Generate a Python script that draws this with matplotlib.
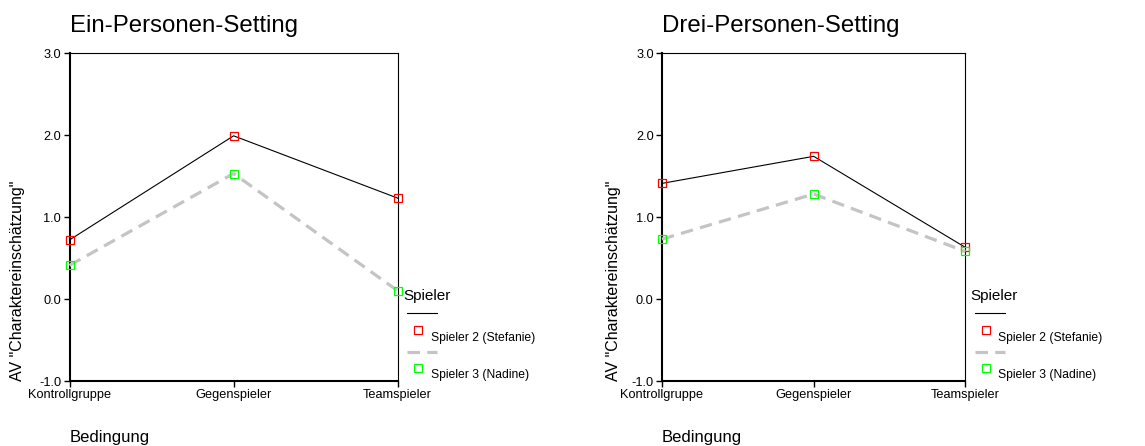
"""Profile plots of the character rating per condition, one panel per setting."""

import matplotlib

matplotlib.use("Agg")
import matplotlib.pyplot as plt
from matplotlib.lines import Line2D
from matplotlib.ticker import FormatStrFormatter

plt.rcParams["font.family"] = ["Liberation Sans", "DejaVu Sans"]

CONDITIONS = ["Kontrollgruppe", "Gegenspieler", "Teamspieler"]
PLAYERS = ["Spieler 2 (Stefanie)", "Spieler 3 (Nadine)"]
TITLES = ["Ein-Personen-Setting", "Drei-Personen-Setting"]

# means per condition, one list per player
ein_spieler2 = [0.72, 1.99, 1.23]
ein_spieler3 = [0.41, 1.53, 0.10]
drei_spieler2 = [1.41, 1.74, 0.63]
drei_spieler3 = [0.73, 1.28, 0.58]

Y_TICKS = [-1.0, 0.0, 1.0, 2.0, 3.0]

W, H = 1145, 446


def px(x, y):
    return x / W, (H - y) / H


def _panel(fig, rect, title, s2, s3, legend_x):
    ax = fig.add_axes(rect)
    xs = range(len(CONDITIONS))
    ax.plot(xs, s2, color="black", lw=0.8, marker="s", ms=5.5, mfc="none",
            mec="#ff0000", mew=0.9, clip_on=False, zorder=3)
    ax.plot(xs, s3, color="#c4c4c4", lw=2.3, ls=(0, (3.9, 2.3)), marker="s", ms=5.5,
            mfc="none", mec="#00ff00", mew=0.9, clip_on=False, zorder=3)
    ax.set_xlim(0, 2)
    ax.set_ylim(-1, 3)
    ax.set_xticks(list(xs))
    ax.set_xticklabels(CONDITIONS)
    ax.set_yticks(Y_TICKS)
    ax.yaxis.set_major_formatter(FormatStrFormatter("%.1f"))
    ax.tick_params(direction="out", length=4, width=1, labelsize=9.2, pad=2)
    for side in ("left", "bottom"):
        ax.spines[side].set_linewidth(1.5)
    for side in ("top", "right"):
        ax.spines[side].set_linewidth(0.8)

    ax.text(0, 1.064, title, transform=ax.transAxes, fontsize=17.3, ha="left", va="baseline")
    ax.text(-0.136, 0.0, 'AV "Charaktereinschätzung"', transform=ax.transAxes, rotation=90,
            rotation_mode="anchor", ha="left", va="bottom", fontsize=11.5)
    ax.text(0, -0.185, "Bedingung", transform=ax.transAxes, fontsize=12, ha="left", va="baseline")

    # SPSS style legend: line and marker sit on separate rows
    fig.text(*px(legend_x, 300), "Spieler", fontsize=11, ha="left", va="baseline")
    fig.add_artist(Line2D([px(legend_x + 4, 0)[0], px(legend_x + 34, 0)[0]],
                          [px(0, 313)[1]] * 2, color="black", lw=0.8))
    fig.add_artist(Line2D([px(legend_x + 15, 0)[0]], [px(0, 330)[1]], ls="none", marker="s",
                          ms=5.5, mfc="none", mec="#ff0000", mew=0.9))
    fig.text(*px(legend_x + 28, 341.5), PLAYERS[0], fontsize=8.7, ha="left", va="baseline")
    fig.add_artist(Line2D([px(legend_x + 4, 0)[0], px(legend_x + 34, 0)[0]],
                          [px(0, 351.5)[1]] * 2, color="#c4c4c4", lw=2.3, ls=(0, (3.9, 2.3))))
    fig.add_artist(Line2D([px(legend_x + 15, 0)[0]], [px(0, 368)[1]], ls="none", marker="s",
                          ms=5.5, mfc="none", mec="#00ff00", mew=0.9))
    fig.text(*px(legend_x + 28, 378), PLAYERS[1], fontsize=8.7, ha="left", va="baseline")
    return ax


fig = plt.figure(figsize=(W / 100, H / 100), dpi=100)
_panel(fig, [69.5 / W, 65 / H, 328.2 / W, 328 / H], TITLES[0], ein_spieler2, ein_spieler3, 403)
_panel(fig, [662 / W, 65 / H, 303.3 / W, 328 / H], TITLES[1], drei_spieler2, drei_spieler3, 970.5)
fig.savefig("out.png", dpi=100)
